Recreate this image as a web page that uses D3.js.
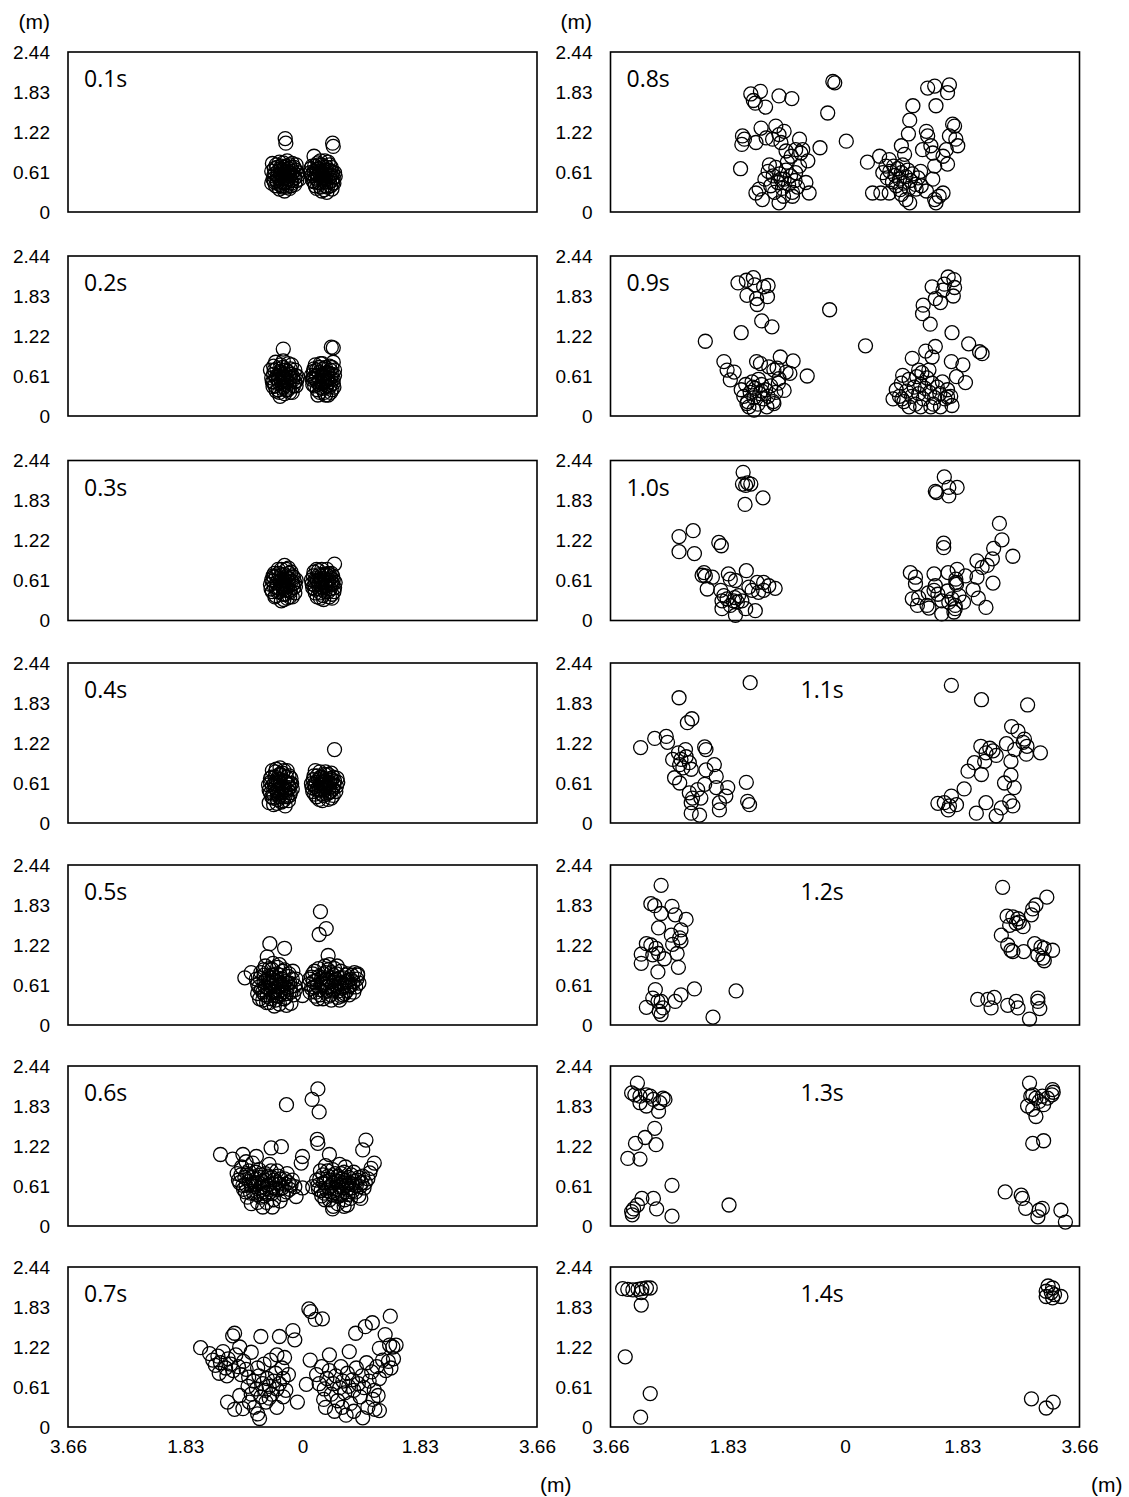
<!DOCTYPE html>
<html>
<head>
<meta charset="utf-8">
<script src="https://cdn.jsdelivr.net/npm/d3@7"></script>
<style>
  body { margin: 0; background: #fff; }
  svg text { fill: #000; }
</style>
</head>
<body>
<script>
// Time stamps of the fourteen snapshots
const timeLabels = ["0.1s","0.2s","0.3s","0.4s","0.5s","0.6s","0.7s",
                    "0.8s","0.9s","1.0s","1.1s","1.2s","1.3s","1.4s"];

// Axis ticks (m)
const xTicks = [-3.66, -1.83, 0, 1.83, 3.66];
const yTicks = [0, 0.61, 1.22, 1.83, 2.44];
const unitLabel = "(m)";

// Positions [lateral x, height y] in metres, one array per snapshot
const p01 = [[-0.27,1.12],[-0.26,1.05],[0.47,1.05],[0.48,1.00],[-0.47,0.74],[0.18,0.85],
  [-0.45,0.55],[-0.40,0.48],[-0.38,0.62],[-0.35,0.42],[-0.33,0.70],[-0.30,0.52],[-0.28,0.60],[-0.26,0.45],
  [-0.25,0.38],[-0.22,0.66],[-0.20,0.55],[-0.18,0.48],[-0.15,0.62],[-0.12,0.52],[-0.10,0.72],[-0.30,0.75],
  [-0.42,0.40],[-0.36,0.35],[-0.28,0.32],[-0.20,0.36],[-0.48,0.62],[-0.24,0.78],[-0.16,0.74],[-0.08,0.60],
  [-0.34,0.58],[-0.22,0.50],[-0.40,0.68],[-0.12,0.42],[-0.05,0.50],[-0.44,0.46],[-0.31,0.64],[-0.17,0.58],
  [-0.46,0.50],[-0.43,0.58],[-0.41,0.72],[-0.39,0.44],[-0.37,0.52],[-0.34,0.66],[-0.32,0.46],[-0.31,0.38],
  [-0.29,0.68],[-0.27,0.52],[-0.25,0.62],[-0.23,0.42],[-0.21,0.60],[-0.19,0.68],[-0.17,0.44],[-0.14,0.56],
  [-0.11,0.64],[-0.09,0.48],[-0.07,0.56],[-0.36,0.76],[-0.26,0.70],[-0.18,0.40],[-0.44,0.66],[-0.33,0.40],
  [-0.23,0.56],[-0.13,0.68],[-0.39,0.56],[-0.29,0.44],[-0.20,0.72],[-0.48,0.44],
  [0.12,0.60],[0.15,0.70],[0.20,0.52],[0.22,0.65],[0.25,0.45],[0.27,0.58],[0.30,0.72],[0.32,0.50],
  [0.34,0.62],[0.36,0.40],[0.38,0.68],[0.40,0.55],[0.42,0.46],[0.44,0.62],[0.46,0.35],[0.48,0.52],
  [0.50,0.60],[0.28,0.38],[0.24,0.75],[0.35,0.78],[0.16,0.48],[0.30,0.32],[0.42,0.72],[0.47,0.44],
  [0.20,0.40],[0.33,0.55],[0.38,0.30],[0.14,0.55],[0.26,0.66],[0.45,0.56],[0.36,0.50],[0.22,0.58],
  [0.13,0.66],[0.16,0.58],[0.18,0.46],[0.19,0.70],[0.21,0.60],[0.23,0.50],[0.25,0.72],[0.27,0.44],
  [0.29,0.62],[0.31,0.56],[0.33,0.68],[0.35,0.46],[0.37,0.58],[0.39,0.38],[0.41,0.64],[0.43,0.54],
  [0.45,0.68],[0.47,0.60],[0.49,0.44],[0.51,0.54],[0.28,0.78],[0.40,0.76],[0.22,0.36],[0.34,0.34],
  [0.44,0.40],[0.30,0.50],[0.36,0.64],[0.24,0.56],[0.18,0.62],[0.46,0.48]];

const p02 = [[-0.30,1.02],[0.45,1.05],[0.48,1.04],[0.48,0.82],
  [-0.48,0.58],[-0.46,0.45],[-0.44,0.70],[-0.41,0.38],[-0.39,0.62],[-0.36,0.50],[-0.34,0.78],[-0.32,0.42],
  [-0.30,0.60],[-0.28,0.34],[-0.26,0.70],[-0.24,0.52],[-0.22,0.80],[-0.20,0.44],[-0.18,0.64],[-0.15,0.55],
  [-0.12,0.70],[-0.10,0.46],[-0.42,0.82],[-0.28,0.48],[-0.35,0.30],[-0.16,0.36],[-0.50,0.70],[-0.08,0.60],
  [-0.33,0.66],[-0.23,0.40],[-0.38,0.55],[-0.19,0.72],[-0.45,0.52],[-0.27,0.58],[-0.12,0.52],
  [-0.47,0.52],[-0.45,0.64],[-0.43,0.46],[-0.40,0.72],[-0.38,0.40],[-0.37,0.60],[-0.35,0.68],[-0.33,0.52],
  [-0.31,0.74],[-0.29,0.44],[-0.27,0.64],[-0.25,0.56],[-0.23,0.68],[-0.21,0.50],[-0.19,0.58],[-0.17,0.78],
  [-0.14,0.46],[-0.11,0.62],[-0.09,0.54],[-0.36,0.36],[-0.26,0.40],[-0.41,0.58],[-0.31,0.58],[-0.21,0.64],
  [-0.15,0.60],[-0.45,0.76],[-0.30,0.84],[-0.20,0.36],
  [0.14,0.62],[0.16,0.48],[0.18,0.72],[0.21,0.56],[0.23,0.40],[0.26,0.66],[0.28,0.80],[0.30,0.50],
  [0.32,0.62],[0.34,0.36],[0.36,0.74],[0.38,0.54],[0.40,0.66],[0.42,0.44],[0.44,0.58],[0.46,0.74],
  [0.48,0.50],[0.50,0.62],[0.24,0.32],[0.20,0.78],[0.40,0.32],[0.46,0.40],[0.27,0.54],[0.35,0.60],
  [0.31,0.42],[0.17,0.58],[0.43,0.70],[0.38,0.46],
  [0.15,0.56],[0.17,0.68],[0.19,0.46],[0.22,0.62],[0.24,0.50],[0.26,0.74],[0.28,0.44],[0.30,0.60],
  [0.32,0.72],[0.34,0.52],[0.36,0.44],[0.38,0.66],[0.40,0.58],[0.42,0.76],[0.44,0.48],[0.46,0.64],
  [0.48,0.56],[0.50,0.70],[0.27,0.36],[0.36,0.32],[0.44,0.36],[0.31,0.80],[0.22,0.70],[0.33,0.64],
  [0.41,0.52],[0.49,0.44],[0.19,0.60]];

const p03 = [[-0.28,0.84],[0.50,0.86],
  [-0.50,0.55],[-0.47,0.44],[-0.45,0.66],[-0.42,0.38],[-0.40,0.58],[-0.37,0.72],[-0.35,0.48],[-0.32,0.62],
  [-0.30,0.40],[-0.28,0.70],[-0.26,0.52],[-0.24,0.34],[-0.22,0.64],[-0.20,0.46],[-0.18,0.74],[-0.15,0.56],
  [-0.12,0.42],[-0.10,0.62],[-0.44,0.52],[-0.33,0.30],[-0.38,0.78],[-0.16,0.36],[-0.25,0.78],[-0.48,0.62],
  [-0.29,0.56],[-0.36,0.44],[-0.21,0.58],[-0.41,0.68],[-0.14,0.66],
  [-0.49,0.48],[-0.46,0.60],[-0.44,0.72],[-0.41,0.50],[-0.39,0.44],[-0.37,0.64],[-0.34,0.56],[-0.32,0.70],
  [-0.30,0.48],[-0.28,0.62],[-0.27,0.40],[-0.25,0.66],[-0.23,0.52],[-0.21,0.72],[-0.19,0.44],[-0.17,0.60],
  [-0.14,0.50],[-0.12,0.58],[-0.43,0.36],[-0.29,0.32],[-0.20,0.36],[-0.33,0.78],[-0.22,0.80],[-0.46,0.68],
  [-0.35,0.60],[-0.26,0.46],[-0.16,0.68],[-0.11,0.52],
  [0.14,0.62],[0.16,0.50],[0.18,0.74],[0.20,0.42],[0.23,0.60],[0.25,0.76],[0.27,0.48],[0.30,0.64],
  [0.32,0.38],[0.34,0.70],[0.36,0.52],[0.38,0.62],[0.40,0.44],[0.42,0.70],[0.44,0.54],[0.46,0.40],
  [0.48,0.62],[0.50,0.50],[0.28,0.34],[0.22,0.78],[0.38,0.78],[0.45,0.72],[0.26,0.56],[0.35,0.58],
  [0.19,0.54],[0.42,0.36],[0.31,0.70],[0.47,0.56],
  [0.15,0.56],[0.17,0.68],[0.19,0.48],[0.21,0.64],[0.24,0.54],[0.26,0.70],[0.28,0.42],[0.29,0.58],
  [0.31,0.50],[0.33,0.64],[0.35,0.44],[0.37,0.70],[0.39,0.56],[0.41,0.62],[0.43,0.48],[0.45,0.58],
  [0.47,0.68],[0.49,0.44],[0.51,0.58],[0.23,0.36],[0.33,0.32],[0.46,0.34],[0.30,0.78],[0.40,0.72],
  [0.20,0.60],[0.36,0.52],[0.27,0.62],[0.44,0.64]];

const p04 = [[0.50,1.12],[-0.52,0.31],
  [-0.53,0.58],[-0.50,0.46],[-0.48,0.70],[-0.46,0.38],[-0.44,0.60],[-0.42,0.78],[-0.40,0.50],[-0.38,0.66],
  [-0.36,0.40],[-0.34,0.74],[-0.32,0.56],[-0.30,0.34],[-0.28,0.64],[-0.26,0.48],[-0.24,0.80],[-0.22,0.58],
  [-0.20,0.42],[-0.18,0.68],[-0.16,0.52],[-0.40,0.30],[-0.27,0.26],[-0.47,0.80],[-0.35,0.84],[-0.22,0.34],
  [-0.31,0.52],[-0.43,0.54],[-0.37,0.62],[-0.25,0.70],[-0.19,0.60],[-0.50,0.62],
  [-0.52,0.50],[-0.50,0.68],[-0.47,0.56],[-0.45,0.44],[-0.43,0.70],[-0.41,0.60],[-0.39,0.36],[-0.37,0.52],
  [-0.35,0.66],[-0.33,0.46],[-0.31,0.76],[-0.29,0.56],[-0.27,0.42],[-0.25,0.62],[-0.23,0.50],[-0.21,0.72],
  [-0.19,0.46],[-0.17,0.60],[-0.45,0.28],[-0.33,0.32],[-0.24,0.40],[-0.41,0.82],[-0.29,0.80],[-0.36,0.74],
  [-0.48,0.40],[-0.28,0.50],[-0.21,0.54],[-0.39,0.44],
  [0.14,0.60],[0.16,0.48],[0.18,0.72],[0.20,0.56],[0.22,0.40],[0.25,0.66],[0.27,0.78],[0.29,0.50],
  [0.31,0.62],[0.33,0.42],[0.35,0.74],[0.37,0.54],[0.39,0.66],[0.41,0.46],[0.43,0.60],[0.45,0.76],
  [0.47,0.52],[0.50,0.64],[0.53,0.56],[0.26,0.36],[0.40,0.36],[0.48,0.42],[0.20,0.80],[0.34,0.60],
  [0.24,0.52],[0.44,0.68],[0.30,0.70],[0.55,0.62],
  [0.15,0.54],[0.17,0.66],[0.19,0.44],[0.21,0.62],[0.23,0.72],[0.26,0.50],[0.28,0.60],[0.30,0.44],
  [0.32,0.68],[0.34,0.50],[0.36,0.64],[0.38,0.44],[0.40,0.74],[0.42,0.54],[0.44,0.48],[0.46,0.66],
  [0.49,0.58],[0.52,0.48],[0.54,0.68],[0.31,0.34],[0.45,0.38],[0.22,0.50],[0.36,0.78],[0.42,0.62],
  [0.28,0.70],[0.33,0.58],[0.48,0.70],[0.18,0.58]];

const p05 = [[0.28,1.73],[0.26,1.38],[0.37,1.47],[0.40,1.06],[-0.51,1.24],[-0.28,1.17],[-0.55,1.04],
  [-0.90,0.72],[-0.80,0.80],[0.00,0.45],[-0.67,0.40],[-0.44,0.29],[-0.18,0.33],[0.81,0.80],[0.86,0.78],
  [0.58,0.38],[0.14,0.73],
  [-0.72,0.70],[-0.68,0.58],[-0.65,0.80],[-0.62,0.50],[-0.60,0.66],[-0.58,0.90],[-0.55,0.44],[-0.53,0.74],
  [-0.50,0.60],[-0.48,0.85],[-0.46,0.52],[-0.44,0.68],[-0.42,0.38],[-0.40,0.78],[-0.38,0.58],[-0.36,0.92],
  [-0.34,0.48],[-0.32,0.70],[-0.30,0.62],[-0.28,0.84],[-0.26,0.42],[-0.24,0.56],[-0.22,0.74],[-0.20,0.64],
  [-0.18,0.50],[-0.15,0.82],[-0.12,0.60],[-0.10,0.70],[-0.56,0.34],[-0.36,0.32],[-0.62,0.38],[-0.46,0.94],
  [-0.70,0.48],[-0.25,0.30],[-0.50,0.72],[-0.40,0.54],[-0.33,0.62],[-0.45,0.45],[-0.58,0.58],[-0.30,0.50],
  [-0.70,0.62],[-0.66,0.72],[-0.64,0.54],[-0.61,0.84],[-0.59,0.46],[-0.57,0.68],[-0.54,0.56],[-0.52,0.86],
  [-0.51,0.64],[-0.49,0.40],[-0.47,0.76],[-0.45,0.60],[-0.43,0.50],[-0.41,0.66],[-0.39,0.88],[-0.37,0.44],
  [-0.35,0.76],[-0.33,0.54],[-0.31,0.82],[-0.29,0.40],[-0.27,0.66],[-0.25,0.48],[-0.23,0.64],[-0.21,0.78],
  [-0.19,0.58],[-0.16,0.70],[-0.14,0.46],[-0.11,0.54],[-0.52,0.34],[-0.40,0.44],[-0.60,0.76],[-0.48,0.64],
  [-0.36,0.60],
  [0.10,0.62],[0.12,0.50],[0.16,0.78],[0.18,0.58],[0.20,0.44],[0.22,0.68],[0.25,0.86],[0.27,0.54],
  [0.30,0.72],[0.32,0.40],[0.34,0.62],[0.36,0.80],[0.38,0.52],[0.40,0.68],[0.42,0.92],[0.44,0.46],
  [0.46,0.60],[0.48,0.76],[0.50,0.54],[0.52,0.70],[0.55,0.42],[0.57,0.64],[0.60,0.82],[0.62,0.56],
  [0.64,0.72],[0.66,0.48],[0.68,0.66],[0.70,0.78],[0.72,0.58],[0.75,0.70],[0.78,0.62],[0.80,0.50],
  [0.85,0.70],[0.88,0.64],[0.24,0.40],[0.45,0.38],[0.60,0.44],[0.35,0.90],[0.50,0.86],[0.73,0.46],
  [0.11,0.70],[0.14,0.56],[0.17,0.66],[0.19,0.82],[0.21,0.50],[0.23,0.60],[0.26,0.74],[0.28,0.46],
  [0.31,0.64],[0.33,0.78],[0.35,0.50],[0.37,0.70],[0.39,0.58],[0.41,0.44],[0.43,0.66],[0.45,0.80],
  [0.47,0.52],[0.49,0.68],[0.51,0.60],[0.53,0.78],[0.56,0.52],[0.58,0.72],[0.61,0.64],[0.63,0.46],
  [0.65,0.60],[0.67,0.76],[0.69,0.52],[0.71,0.68],[0.74,0.60],[0.77,0.76],[0.79,0.66],[0.83,0.58],
  [0.86,0.76],[0.40,0.84],[0.54,0.90]];

const p06 = [[0.24,2.09],[0.15,1.93],[0.26,1.74],[-0.25,1.85],[0.23,1.32],[0.24,1.26],[0.99,1.31],[0.94,1.16],
  [-1.28,1.09],[-1.09,1.02],[-0.49,1.19],[-0.33,1.21],[0.00,1.06],[-0.02,0.96],[0.42,1.09],[-0.93,1.09],
  [-0.72,1.06],[-0.88,0.98],[1.12,0.96],[1.07,0.88],[1.05,0.81],[0.00,0.58],[0.16,0.60],[-0.10,0.45],
  [0.47,0.26],[0.65,0.30],[0.91,0.42],[-0.62,0.29],[-0.47,0.29],
  [-1.02,0.80],[-0.98,0.66],[-0.95,0.90],[-0.92,0.56],[-0.90,0.74],[-0.86,0.44],[-0.84,0.84],[-0.80,0.62],
  [-0.78,0.96],[-0.76,0.50],[-0.72,0.72],[-0.70,0.36],[-0.68,0.86],[-0.66,0.58],[-0.63,0.68],[-0.60,0.46],
  [-0.58,0.80],[-0.55,0.62],[-0.52,0.94],[-0.50,0.52],[-0.48,0.74],[-0.45,0.40],[-0.42,0.66],[-0.40,0.84],
  [-0.37,0.56],[-0.34,0.72],[-0.30,0.48],[-0.27,0.64],[-0.24,0.80],[-0.20,0.56],[-0.16,0.70],[-0.12,0.60],
  [-0.80,0.34],[-0.56,0.36],[-0.74,0.60],[-0.64,0.78],[-0.46,0.58],[-0.88,0.62],[-0.35,0.38],[-0.62,0.52],
  [-1.00,0.70],[-0.96,0.78],[-0.93,0.62],[-0.89,0.52],[-0.87,0.80],[-0.83,0.68],[-0.81,0.50],[-0.79,0.74],
  [-0.75,0.64],[-0.73,0.82],[-0.71,0.48],[-0.69,0.66],[-0.67,0.74],[-0.65,0.44],[-0.61,0.60],[-0.59,0.70],
  [-0.57,0.50],[-0.54,0.76],[-0.51,0.64],[-0.49,0.84],[-0.47,0.50],[-0.44,0.70],[-0.41,0.56],[-0.38,0.76],
  [-0.36,0.64],[-0.32,0.58],[-0.28,0.72],[-0.25,0.52],[-0.22,0.66],[-0.18,0.62],
  [0.22,0.70],[0.25,0.56],[0.28,0.84],[0.30,0.46],[0.33,0.66],[0.36,0.92],[0.38,0.54],[0.40,0.76],
  [0.42,0.40],[0.45,0.62],[0.47,0.86],[0.50,0.50],[0.52,0.70],[0.55,0.34],[0.57,0.60],[0.60,0.80],
  [0.62,0.48],[0.64,0.66],[0.67,0.90],[0.70,0.56],[0.72,0.74],[0.75,0.42],[0.78,0.64],[0.80,0.82],
  [0.83,0.52],[0.86,0.70],[0.90,0.60],[0.94,0.76],[0.98,0.66],[1.02,0.72],[0.35,0.40],[0.58,0.94],
  [0.48,0.30],[0.70,0.32],[0.60,0.62],[0.44,0.52],[0.76,0.58],[0.55,0.76],[0.88,0.46],[0.66,0.40],
  [0.24,0.62],[0.27,0.72],[0.29,0.54],[0.32,0.78],[0.34,0.50],[0.37,0.68],[0.39,0.84],[0.41,0.58],
  [0.43,0.70],[0.46,0.48],[0.48,0.66],[0.51,0.80],[0.53,0.56],[0.56,0.68],[0.58,0.46],[0.61,0.72],
  [0.63,0.58],[0.65,0.82],[0.68,0.62],[0.71,0.48],[0.73,0.66],[0.76,0.78],[0.79,0.54],[0.81,0.68],
  [0.84,0.62],[0.88,0.74],[0.92,0.66],[0.96,0.58],[0.54,0.50],[0.66,0.70]];

const p07 = [[0.10,1.80],[0.13,1.76],[0.20,1.64],[0.31,1.65],[1.37,1.69],[1.09,1.59],[0.98,1.53],[0.83,1.43],
  [1.29,1.41],[-0.15,1.47],[-0.12,1.33],[-0.36,1.38],[-0.65,1.38],[-1.09,1.39],[-1.06,1.43],[-1.59,1.21],
  [0.12,1.02],[0.42,1.10],[0.73,1.15],[1.36,1.25],[1.46,1.25],[1.41,1.22],[1.20,1.20],[0.06,0.65],
  [-0.08,0.38],[0.33,0.42],[0.94,0.14],[-0.67,0.13],
  [-1.45,1.12],[-1.40,1.02],[-1.36,0.94],[-1.32,1.08],[-1.28,0.98],[-1.24,1.15],[-1.20,0.90],[-1.16,1.04],
  [-1.12,0.96],[-1.08,0.86],[-1.04,1.10],[-1.00,0.92],[-0.96,0.80],[-0.92,1.00],[-0.88,0.88],[-0.84,0.76],
  [-1.30,0.82],[-1.18,0.78],[-0.98,1.22],[-0.80,1.14],
  [-0.85,0.62],[-0.80,0.50],[-0.76,0.70],[-0.72,0.58],[-0.68,0.78],[-0.65,0.46],[-0.62,0.66],[-0.58,0.56],
  [-0.55,0.74],[-0.52,0.62],[-0.48,0.50],[-0.45,0.70],[-0.42,0.82],[-0.40,0.58],[-0.36,0.66],[-0.32,0.90],
  [-0.30,0.74],[-0.26,0.56],[-0.22,0.80],[-0.70,0.90],[-0.60,0.96],[-0.50,1.02],[-0.40,1.10],[-0.28,1.06],
  [-1.17,0.38],[-1.06,0.27],[-0.93,0.28],[-0.83,0.38],[-0.57,0.38],[-0.52,0.44],[-0.75,0.30],[-0.40,0.30],
  [-0.30,0.46],[-0.98,0.48],[-0.70,0.20],
  [0.22,0.80],[0.26,0.66],[0.30,0.92],[0.34,0.58],[0.38,0.74],[0.42,0.86],[0.45,0.50],[0.48,0.66],
  [0.52,0.78],[0.55,0.40],[0.58,0.60],[0.60,0.92],[0.63,0.70],[0.66,0.52],[0.70,0.82],[0.72,0.62],
  [0.75,0.36],[0.78,0.72],[0.80,0.56],[0.84,0.90],[0.87,0.66],[0.90,0.46],[0.93,0.78],[0.96,0.60],
  [1.00,0.98],[1.04,0.70],[1.08,0.84],[1.12,0.56],[1.16,0.92],[1.20,0.74],[1.25,1.02],[1.30,0.86],
  [1.34,1.00],[1.38,0.90],[1.42,1.04],[0.36,0.30],[0.50,0.24],[0.62,0.30],[0.80,0.24],[1.02,0.30],
  [1.10,0.42],[1.18,0.48],[1.20,0.25],[1.13,0.27],[0.68,0.18]];

const p08 = [[-1.47,1.80],[-1.32,1.84],[-1.43,1.70],[-1.40,1.66],[-1.24,1.60],[-1.03,1.77],[-0.83,1.73],
  [-0.19,1.99],[-0.16,1.97],[-0.27,1.51],[0.02,1.08],[-0.39,0.98],
  [-1.60,1.16],[-1.61,1.03],[-1.57,1.11],[-1.39,1.06],[-1.31,1.28],[-1.08,1.31],[-1.03,1.18],[-0.95,1.23],
  [-1.23,1.13],[-1.13,1.11],[-1.00,1.06],[-0.71,1.11],[-0.77,0.95],[-0.69,0.90],[-0.92,0.93],[-0.84,0.85],
  [-0.66,0.95],[-1.63,0.66],[-0.58,0.78],[-0.71,0.70],[-0.77,0.60],
  [-1.25,0.50],[-1.20,0.62],[-1.16,0.40],[-1.12,0.55],[-1.08,0.68],[-1.05,0.45],[-1.02,0.58],[-0.98,0.36],
  [-0.95,0.50],[-0.92,0.64],[-0.88,0.42],[-0.85,0.55],[-0.82,0.30],[-0.78,0.48],[-0.74,0.38],[-1.10,0.30],
  [-0.96,0.24],[-1.18,0.72],[-0.90,0.76],[-1.00,0.50],
  [-1.34,0.35],[-1.39,0.29],[-1.29,0.19],[-1.03,0.14],[-0.82,0.24],[-0.61,0.45],[-0.56,0.29],
  [1.29,1.89],[1.40,1.92],[1.63,1.94],[1.60,1.82],[1.42,1.62],[1.06,1.62],[1.01,1.40],[0.99,1.19],
  [0.88,1.01],[1.27,1.23],[1.29,1.16],[1.68,1.34],[1.71,1.31],[1.63,1.16],[1.73,1.11],[1.76,1.01],
  [1.58,0.95],[1.21,0.95],[1.34,1.01],[1.37,0.90],[1.53,0.85],[1.60,0.73],[1.40,0.70],[0.35,0.76],
  [0.54,0.85],[0.69,0.80],[0.93,0.88],[0.64,0.70],[0.59,0.60],
  [0.66,0.52],[0.70,0.62],[0.74,0.46],[0.78,0.56],[0.82,0.66],[0.85,0.50],[0.88,0.60],[0.92,0.44],
  [0.95,0.54],[0.98,0.64],[1.02,0.48],[1.05,0.58],[1.10,0.42],[1.14,0.52],[0.80,0.40],[0.90,0.72],
  [1.00,0.36],[0.76,0.70],[1.18,0.62],[0.86,0.34],
  [0.43,0.29],[0.56,0.29],[0.69,0.29],[0.88,0.27],[0.95,0.19],[1.01,0.14],[1.11,0.35],[1.27,0.32],
  [1.37,0.50],[1.40,0.19],[1.47,0.24],[1.53,0.29],[1.42,0.14],[1.19,0.40]];

const p09 = [[-1.67,2.03],[-1.54,2.07],[-1.43,2.11],[-1.41,2.00],[-1.27,1.97],[-1.20,1.99],[-1.53,1.84],
  [-1.38,1.79],[-1.21,1.82],[-1.37,1.70],[-1.30,1.45],[-1.14,1.36],[-1.62,1.27],[-2.18,1.14],[-0.24,1.62],
  [0.32,1.07],[-1.89,0.83],[-1.84,0.70],[-1.73,0.67],[-1.79,0.55],[-1.38,0.83],[-1.32,0.80],[-1.19,0.75],
  [-1.11,0.70],[-1.06,0.73],[-1.01,0.90],[-0.81,0.84],[-0.86,0.65],[-0.59,0.61],[-0.95,0.39],[-1.42,0.09],
  [-1.11,0.19],[-1.53,0.19],[-1.03,0.57],[-0.92,0.67],
  [-1.62,0.40],[-1.58,0.30],[-1.55,0.48],[-1.52,0.22],[-1.48,0.36],[-1.45,0.52],[-1.42,0.28],[-1.40,0.42],
  [-1.36,0.18],[-1.33,0.34],[-1.30,0.48],[-1.27,0.26],[-1.24,0.40],[-1.20,0.30],[-1.16,0.46],[-1.12,0.22],
  [-1.08,0.36],[-1.04,0.50],[-1.50,0.14],[-1.35,0.56],[-1.22,0.14],[-1.44,0.44],[-1.30,0.38],
  [1.61,2.12],[1.70,2.08],[1.55,2.01],[1.71,1.96],[1.36,1.97],[1.53,1.92],[1.69,1.83],[1.41,1.79],
  [1.49,1.73],[1.22,1.69],[1.21,1.56],[1.33,1.40],[1.67,1.27],[1.93,1.10],[2.10,0.98],[2.14,0.95],
  [1.41,1.06],[1.26,0.99],[1.36,0.90],[1.05,0.88],[1.66,0.83],[1.84,0.78],[1.74,0.60],[1.88,0.51],
  [1.15,0.70],[1.31,0.70],
  [0.80,0.40],[0.85,0.30],[0.88,0.50],[0.92,0.22],[0.96,0.38],[1.00,0.56],[1.04,0.30],[1.08,0.44],
  [1.12,0.60],[1.15,0.34],[1.18,0.48],[1.22,0.26],[1.25,0.42],[1.28,0.58],[1.32,0.36],[1.36,0.50],
  [1.40,0.28],[1.44,0.44],[1.48,0.34],[1.52,0.52],[1.56,0.26],[1.60,0.40],[1.65,0.30],[0.90,0.62],
  [1.20,0.66],[1.10,0.18],[1.38,0.18],
  [0.75,0.26],[0.89,0.26],[1.00,0.14],[1.18,0.14],[1.34,0.14],[1.49,0.14],[1.67,0.16],[1.60,0.29]];

const p10 = [[-1.59,2.26],[-1.60,2.08],[-1.52,2.10],[-1.47,2.08],[-1.55,2.06],[-1.28,1.87],[-1.56,1.77],
  [-2.59,1.28],[-2.37,1.37],[-2.59,1.05],[-2.35,1.02],[-1.97,1.19],[-1.93,1.14],
  [-2.20,0.73],[-2.18,0.68],[-2.23,0.69],[-2.07,0.66],[-2.15,0.48],[-1.82,0.71],[-1.79,0.63],[-1.71,0.61],
  [-1.54,0.76],[-1.94,0.46],[-1.89,0.38],[-1.92,0.30],[-1.84,0.33],[-1.74,0.30],[-1.79,0.23],[-1.68,0.28],
  [-1.71,0.08],[-1.92,0.18],[-1.55,0.18],[-1.40,0.15],[-1.50,0.51],[-1.45,0.46],[-1.37,0.58],[-1.27,0.58],
  [-1.19,0.53],[-1.09,0.49],[-1.35,0.43],[-1.27,0.46],[-1.66,0.38],[-1.61,0.30],[-1.72,0.35],
  [1.55,2.19],[1.41,1.97],[1.43,1.95],[1.62,2.03],[1.75,2.03],[1.62,1.90],[1.54,1.18],[1.54,1.11],
  [2.41,1.48],[2.45,1.23],[2.32,1.10],[2.62,0.98],[2.06,0.91],[2.30,0.94],[2.14,0.81],[2.22,0.84],
  [1.75,0.78],[1.88,0.68],[2.06,0.66],[2.31,0.57],[2.00,0.47],[2.08,0.34],[2.20,0.20],[1.02,0.73],
  [1.10,0.66],[1.10,0.56],[1.39,0.71],[1.61,0.73],[1.73,0.63],[1.73,0.58],[1.74,0.55],[1.41,0.53],
  [1.39,0.46],[1.05,0.33],[1.15,0.35],[1.13,0.23],[1.28,0.23],[1.31,0.19],[1.51,0.30],[1.67,0.33],
  [1.78,0.38],[1.85,0.28],[1.72,0.23],[1.62,0.28],[1.51,0.10],[1.70,0.13],[1.72,0.18],[1.45,0.40],
  [1.60,0.45],[1.30,0.42]];

const p11 = [[-1.48,2.14],[-2.59,1.91],[-2.39,1.59],[-2.46,1.53],[-3.19,1.15],[-2.97,1.29],[-2.79,1.32],
  [-2.77,1.23],[-2.60,1.07],[-2.49,1.12],[-2.19,1.16],[-2.17,1.12],[-2.69,0.97],[-2.56,0.97],[-2.43,0.92],
  [-2.04,0.89],[-2.58,0.89],[-2.53,0.84],[-2.40,0.82],[-2.17,0.81],[-2.66,0.69],[-2.58,0.61],[-2.19,0.59],
  [-2.01,0.71],[-2.01,0.54],[-1.83,0.54],[-1.86,0.41],[-2.43,0.46],[-2.38,0.38],[-2.40,0.31],[-2.25,0.38],
  [-1.96,0.31],[-1.96,0.20],[-2.40,0.15],[-2.27,0.12],[-1.54,0.62],[-1.52,0.33],[-1.49,0.28],[-2.30,0.51],
  [-2.48,1.01],
  [1.66,2.10],[2.13,1.88],[2.85,1.80],[2.60,1.47],[2.70,1.40],[2.80,1.28],[2.78,1.23],[2.84,1.17],
  [2.52,1.21],[2.65,1.12],[2.83,1.05],[3.05,1.07],[2.12,1.17],[2.26,1.14],[2.20,1.07],[2.31,1.10],
  [2.36,1.03],[2.18,0.94],[2.59,0.94],[2.02,0.92],[1.92,0.79],[2.13,0.74],[2.59,0.73],[2.49,0.61],
  [2.64,0.54],[1.86,0.52],[1.66,0.41],[1.55,0.31],[1.45,0.30],[1.63,0.26],[1.74,0.28],[1.61,0.20],
  [2.20,0.31],[2.05,0.15],[2.36,0.11],[2.44,0.23],[2.57,0.33],[2.62,0.26]];

const p12 = [[-2.87,2.13],[-3.03,1.85],[-2.97,1.82],[-2.87,1.70],[-2.70,1.81],[-2.65,1.68],[-2.48,1.61],
  [-2.91,1.48],[-2.56,1.45],[-2.71,1.37],[-2.58,1.33],[-2.56,1.28],[-2.69,1.23],[-3.10,1.24],[-3.03,1.22],
  [-2.95,1.17],[-2.91,1.09],[-3.00,1.07],[-3.18,1.08],[-3.18,0.94],[-2.82,1.01],[-2.62,1.09],[-2.60,0.88],
  [-2.92,0.81],
  [-2.96,0.54],[-3.00,0.41],[-2.92,0.36],[-2.87,0.36],[-2.84,0.26],[-2.90,0.21],[-2.87,0.16],[-3.10,0.27],
  [-2.65,0.36],[-2.56,0.46],[-2.35,0.55],[-1.70,0.52],[-2.06,0.12],
  [2.46,2.10],[3.15,1.95],[2.98,1.83],[2.93,1.77],[2.91,1.68],[2.53,1.66],[2.62,1.65],[2.70,1.62],
  [2.67,1.55],[2.72,1.57],[2.57,1.52],[2.78,1.50],[2.44,1.37],[2.54,1.22],[2.59,1.14],[2.62,1.12],
  [2.79,1.12],[2.96,1.24],[3.06,1.19],[3.11,1.17],[3.24,1.14],[3.01,1.07],[3.09,1.02],[3.11,0.98],
  [2.07,0.39],[2.23,0.39],[2.33,0.42],[2.28,0.26],[2.54,0.30],[2.67,0.36],[2.70,0.26],[3.01,0.41],
  [3.01,0.36],[3.04,0.25],[2.88,0.09]];

const p13 = [[-3.24,2.18],[-3.33,2.03],[-3.28,2.00],[-3.20,1.98],[-3.10,2.00],[-3.04,1.98],[-2.99,1.93],
  [-3.20,1.88],[-3.10,1.83],[-2.84,1.95],[-2.81,1.93],[-2.89,1.88],[-2.91,1.75],[-2.97,1.49],[-3.12,1.35],
  [-3.27,1.26],[-2.95,1.24],[-3.39,1.03],[-3.20,1.02],[-2.70,0.62],[-3.17,0.42],[-2.99,0.42],[-3.24,0.32],
  [-3.30,0.26],[-3.33,0.22],[-3.32,0.17],[-2.94,0.26],[-2.70,0.15],[-1.81,0.32],
  [2.88,2.18],[3.24,2.08],[3.25,2.04],[3.23,2.00],[2.90,1.98],[2.93,2.00],[2.98,1.95],[3.08,1.98],
  [3.16,1.95],[2.85,1.83],[2.93,1.78],[3.10,1.85],[3.03,1.90],[2.98,1.67],[2.93,1.26],[3.10,1.30],
  [2.50,0.52],[2.75,0.47],[2.77,0.42],[2.82,0.27],[3.03,0.24],[3.08,0.27],[3.01,0.14],[3.37,0.24],
  [3.44,0.06]];

const p14 = [[-3.47,2.11],[-3.39,2.10],[-3.31,2.09],[-3.23,2.10],[-3.17,2.11],[-3.10,2.12],[-3.04,2.12],
  [-3.18,2.05],[-3.18,1.86],[-3.43,1.07],[-3.04,0.51],[-3.19,0.15],
  [3.17,2.15],[3.24,2.12],[3.14,2.07],[3.22,2.05],[3.27,2.02],[3.37,1.99],[3.14,1.99],[3.24,1.97],
  [2.91,0.43],[3.14,0.29],[3.25,0.38]];

const snapshots = [p01,p02,p03,p04,p05,p06,p07,p08,p09,p10,p11,p12,p13,p14];

// ---- layout ----
const width = 1129, height = 1497;
const colLeft = [68, 610.5];
const plotW = 469, plotH = 160;
const rowTops = [52, 256, 460.5, 663, 865, 1066, 1267];
const tickFont = "'Liberation Sans', Arial, sans-serif";
const titleFont = "'Open Sans', 'Noto Sans', sans-serif";

const svg = d3.select("body").append("svg")
  .attr("width", width).attr("height", height)
  .attr("viewBox", `0 0 ${width} ${height}`);

const yFmt = d => d === 0 ? "0" : d.toFixed(2);
const xFmt = d => d === 0 ? "0" : Math.abs(d).toFixed(2);

snapshots.forEach((pts, i) => {
  const col = i < 7 ? 0 : 1;
  const row = i % 7;
  const x0 = colLeft[col];
  const y0 = rowTops[row];

  const x = d3.scaleLinear().domain([xTicks[0], xTicks[xTicks.length - 1]]).range([x0, x0 + plotW]);
  const y = d3.scaleLinear().domain([yTicks[0], yTicks[yTicks.length - 1]]).range([y0 + plotH, y0]);

  const g = svg.append("g");

  // y axis labels
  const ya = g.append("g")
    .attr("transform", `translate(${x0},0)`)
    .call(d3.axisLeft(y).tickValues(yTicks).tickSize(0).tickPadding(18).tickFormat(yFmt));
  ya.select(".domain").remove();
  ya.selectAll("text").attr("font-family", tickFont).attr("font-size", 19).attr("fill", "#000");

  // x axis labels on the bottom row only
  if (row === 6) {
    const xa = g.append("g")
      .attr("transform", `translate(0,${y0 + plotH})`)
      .call(d3.axisBottom(x).tickValues(xTicks).tickSize(0).tickPadding(13).tickFormat(xFmt));
    xa.select(".domain").remove();
    xa.selectAll("text").attr("font-family", tickFont).attr("font-size", 19).attr("fill", "#000");
  }

  // plot frame
  g.append("rect")
    .attr("x", x0).attr("y", y0)
    .attr("width", plotW).attr("height", plotH)
    .attr("fill", "none").attr("stroke", "#000").attr("stroke-width", 1.6);

  // markers
  g.append("g").selectAll("circle").data(pts).join("circle")
    .attr("cx", d => x(d[0]))
    .attr("cy", d => y(d[1]))
    .attr("r", 7)
    .attr("fill", "none")
    .attr("stroke", "#000")
    .attr("stroke-width", 1.3);

  // snapshot time
  const centred = i >= 10;
  g.append("text")
    .attr("x", centred ? x0 + 190 : x0 + 16)
    .attr("y", y0 + 35)
    .attr("font-family", titleFont)
    .attr("font-size", 23)
    .text(timeLabels[i]);
});

// unit labels
const unitStyle = s => s.attr("font-family", tickFont).attr("font-size", 21).attr("fill", "#000");
svg.append("text").attr("x", 50).attr("y", 29).attr("text-anchor", "end").text(unitLabel).call(unitStyle);
svg.append("text").attr("x", 592).attr("y", 29).attr("text-anchor", "end").text(unitLabel).call(unitStyle);
svg.append("text").attr("x", 540).attr("y", 1492).text(unitLabel).call(unitStyle);
svg.append("text").attr("x", 1091).attr("y", 1492).text(unitLabel).call(unitStyle);
</script>
</body>
</html>
